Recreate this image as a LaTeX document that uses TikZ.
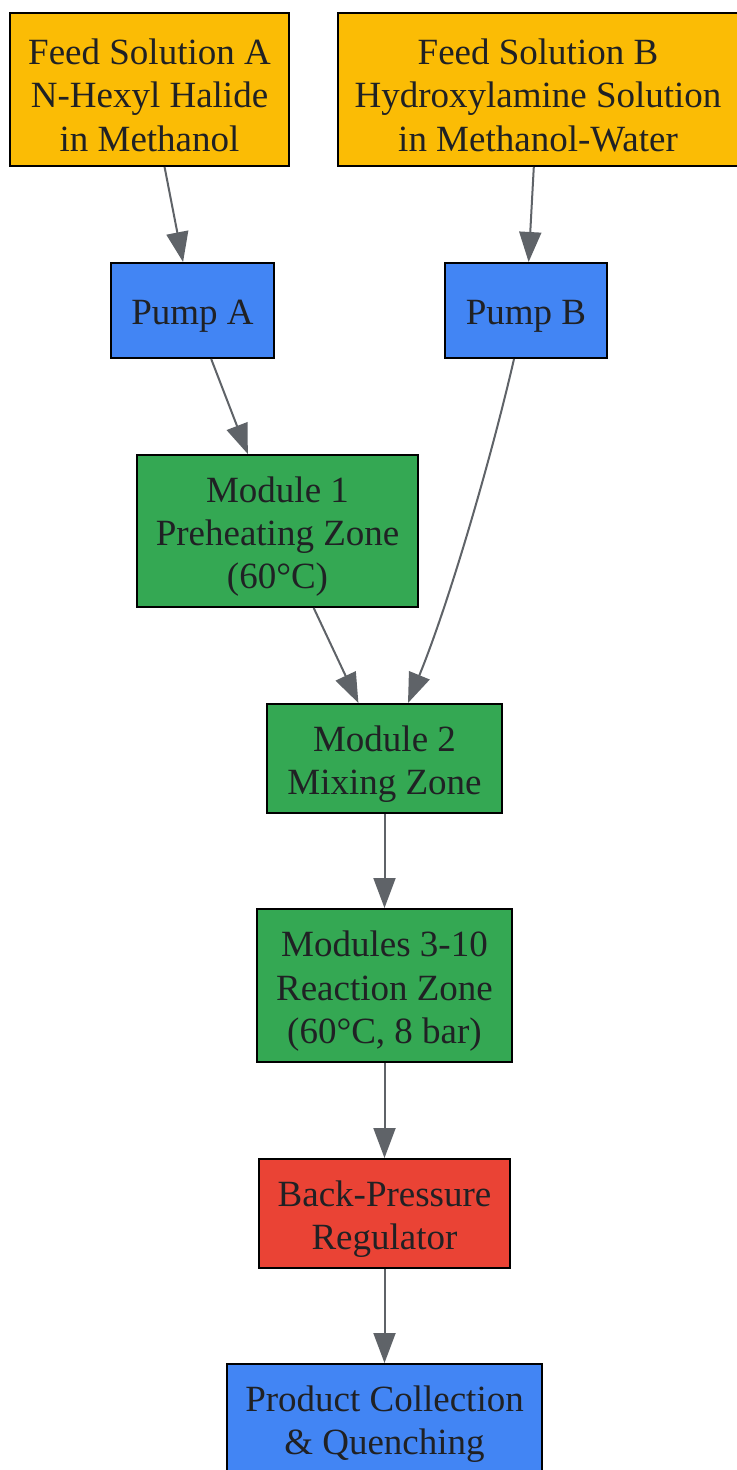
\documentclass[tikz,border=0pt]{standalone}
\usepackage{fontspec}
\setmainfont{Liberation Serif}
\usetikzlibrary{arrows.meta,calc}
\definecolor{cyellow}{HTML}{FBBC05}
\definecolor{cblue}{HTML}{4285F4}
\definecolor{cgreen}{HTML}{34A853}
\definecolor{cred}{HTML}{EA4335}
\definecolor{cedge}{HTML}{5F6368}
\definecolor{ctext}{HTML}{202124}
\tikzset{
  box/.style={draw=black, line width=1pt, rectangle, inner sep=0pt},
  txt/.style={align=center, inner sep=0pt, yshift=-2.8pt,
    text=ctext, font=\fontsize{18.5pt}{21.75pt}\selectfont},
  flow/.style={draw=cedge, line width=1pt, -{Triangle[length=15pt,width=11pt]}},
}
\begin{document}
\begin{tikzpicture}[x=0.5pt,y=-0.5pt]
\useasboundingbox (0,0) rectangle (737,1470);
\clip (0,0) rectangle (737,1470);
\node[box, fill=cyellow, minimum width=139.5pt, minimum height=76.5pt, label={[txt]center:{Feed Solution A\\N-Hexyl Halide\\in Methanol}}] (fa) at (149.5,89.5) {};
\node[box, fill=cyellow, minimum width=200pt, minimum height=76.5pt, label={[txt]center:{Feed Solution B\\Hydroxylamine Solution\\in Methanol-Water}}] (fb) at (538,89.5) {};
\node[box, fill=cblue, minimum width=81.5pt, minimum height=47.5pt, label={[txt]center:{Pump A}}] (pa) at (192.5,310.5) {};
\node[box, fill=cblue, minimum width=81pt, minimum height=47.5pt, label={[txt]center:{Pump B}}] (pb) at (526,310.5) {};
\node[box, fill=cgreen, minimum width=140.5pt, minimum height=76pt, label={[txt]center:{Module 1\\Preheating Zone\\(60°C)}}] (m1) at (277.5,531) {};
\node[box, fill=cgreen, minimum width=117.5pt, minimum height=54.5pt, label={[txt]center:{Module 2\\Mixing Zone}}] (m2) at (384.5,758.5) {};
\node[box, fill=cgreen, minimum width=127.5pt, minimum height=76.5pt, label={[txt]center:{Modules 3-10\\Reaction Zone\\(60°C, 8 bar)}}] (m3) at (384.5,985.5) {};
\node[box, fill=cred, minimum width=125.5pt, minimum height=54.5pt, label={[txt]center:{Back-Pressure\\Regulator}}] (bpr) at (384.5,1213.5) {};
\node[box, fill=cblue, minimum width=157.5pt, minimum height=54.5pt, label={[txt]center:{Product Collection\\\& Quenching}}] (pc) at (384.5,1418.5) {};
\draw[flow] (fa) -- (pa);
\draw[flow] (fb) -- (pb);
\draw[flow] (pa) -- (m1);
\draw[flow] (m1) -- (m2);
\draw[flow] ($(pb.south)+(-12,0)$) .. controls ($(pb.south)+(-35,100)$) and ($(m2.north)+(64.5,-100)$) .. ($(m2.north)+(23.5,0)$);
\draw[flow] (m2) -- (m3);
\draw[flow] (m3) -- (bpr);
\draw[flow] (bpr) -- (pc);
\end{tikzpicture}
\end{document}
